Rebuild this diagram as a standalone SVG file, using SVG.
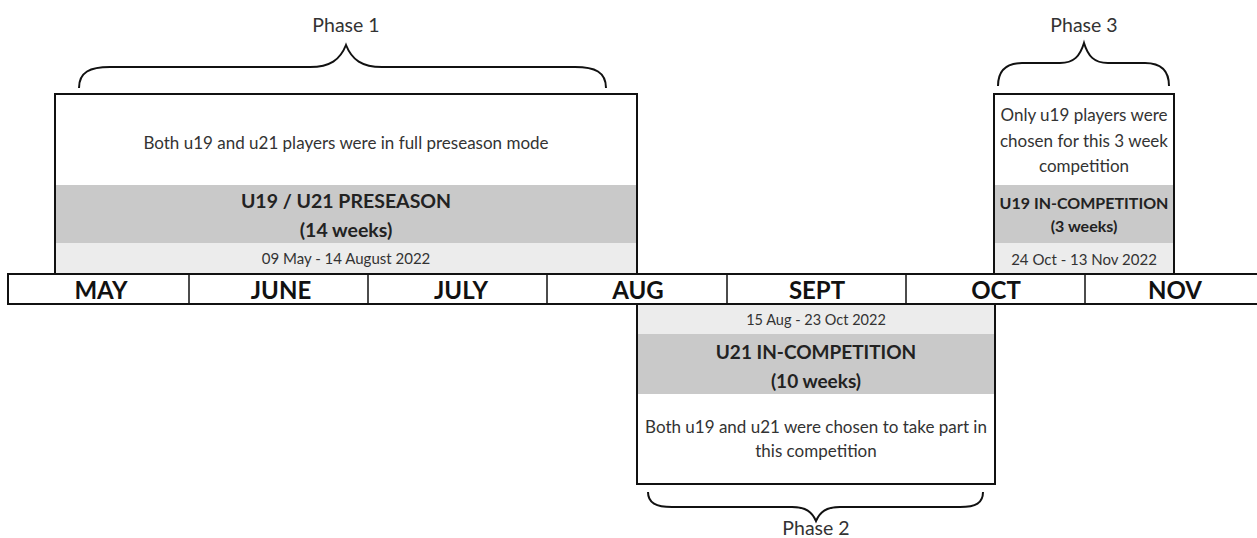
<svg xmlns="http://www.w3.org/2000/svg" width="1257" height="538" viewBox="0 0 1257 538">
<style>
.box{fill:#fff;stroke:#111;stroke-width:2}
.dark{fill:#c9c9c9}
.light{fill:#ececec}
.t{font-family:Lato,"Open Sans",sans-serif;font-size:17px;fill:#333;text-anchor:middle}
.d{font-family:Lato,"Open Sans",sans-serif;font-size:15px;fill:#333;text-anchor:middle}
.b{font-family:Lato,"Open Sans",sans-serif;font-size:19.5px;font-weight:bold;fill:#222;text-anchor:middle}
.m{font-family:Lato,"Open Sans",sans-serif;font-size:24px;font-weight:bold;fill:#111;text-anchor:middle}
.ph{font-family:Lato,"Open Sans",sans-serif;font-size:19.5px;fill:#333;text-anchor:middle}
.brace{fill:none;stroke:#111;stroke-width:2}
</style>
<g id="phase1">
<rect class="box" x="55" y="94" width="582" height="180"/>
<rect class="dark" x="56" y="185" width="580" height="58"/>
<rect class="light" x="56" y="243" width="580" height="30"/>
<text class="t" x="346" y="149">Both u19 and u21 players were in full preseason mode</text>
<text class="b" x="346" y="208">U19 / U21 PRESEASON</text>
<text class="b" x="346" y="237">(14 weeks)</text>
<text class="d" x="346" y="264">09 May - 14 August 2022</text>
</g>
<g id="phase3">
<rect class="box" x="994" y="94" width="180" height="180"/>
<rect class="dark" x="995" y="185" width="178" height="58"/>
<rect class="light" x="995" y="243" width="178" height="30"/>
<text class="t" x="1084" y="121">Only u19 players were</text>
<text class="t" x="1084" y="147">chosen for this 3 week</text>
<text class="t" x="1084" y="172">competition</text>
<text class="b" x="1084" y="209" style="font-size:16px">U19 IN-COMPETITION</text>
<text class="b" x="1084" y="232" style="font-size:16px">(3 weeks)</text>
<text class="d" x="1084" y="265">24 Oct - 13 Nov 2022</text>
</g>
<g id="phase2">
<rect class="box" x="637" y="303" width="358" height="181"/>
<rect class="light" x="638" y="305" width="356" height="29"/>
<rect class="dark" x="638" y="334" width="356" height="60"/>
<text class="d" x="816" y="325" style="font-size:14.5px">15 Aug - 23 Oct 2022</text>
<text class="b" x="816" y="359" style="font-size:19px">U21 IN-COMPETITION</text>
<text class="b" x="816" y="388" style="font-size:19px">(10 weeks)</text>
<text class="t" x="816" y="433">Both u19 and u21 were chosen to take part in</text>
<text class="t" x="816" y="457">this competition</text>
</g>
<g id="timeline">
<rect x="8" y="274" width="1260" height="30" fill="#fff" stroke="#111" stroke-width="2"/>
<g stroke="#111" stroke-width="1.5">
<line x1="189" y1="274" x2="189" y2="304"/>
<line x1="368" y1="274" x2="368" y2="304"/>
<line x1="547" y1="274" x2="547" y2="304"/>
<line x1="727" y1="274" x2="727" y2="304"/>
<line x1="906" y1="274" x2="906" y2="304"/>
<line x1="1085" y1="274" x2="1085" y2="304"/>
</g>
<text class="m" x="101" y="299">MAY</text>
<text class="m" x="281" y="299">JUNE</text>
<text class="m" x="461" y="299">JULY</text>
<text class="m" x="638" y="299">AUG</text>
<text class="m" x="817" y="299">SEPT</text>
<text class="m" x="996" y="299">OCT</text>
<text class="m" x="1175" y="299">NOV</text>
</g>
<g id="braces">
<path class="brace" d="M79 88 C79 72 90 67 110 67 L310 67 C330 67 340 60 346 45 C352 60 362 67 382 67 L575 67 C595 67 606 72 606 88"/>
<text class="ph" x="346" y="32">Phase 1</text>
<path class="brace" d="M998 86 C998 70 1006 63 1022 63 L1060 63 C1074 63 1080 56 1084 43 C1088 56 1094 63 1108 63 L1145 63 C1161 63 1169 70 1169 86"/>
<text class="ph" x="1084" y="32">Phase 3</text>
<path class="brace" d="M648 492 C648 503 656 507 672 507 L792 507 C806 507 812 512 816 521 C820 512 826 507 840 507 L960 507 C976 507 983 503 983 492"/>
<text class="ph" x="816" y="535">Phase 2</text>
</g>
</svg>
